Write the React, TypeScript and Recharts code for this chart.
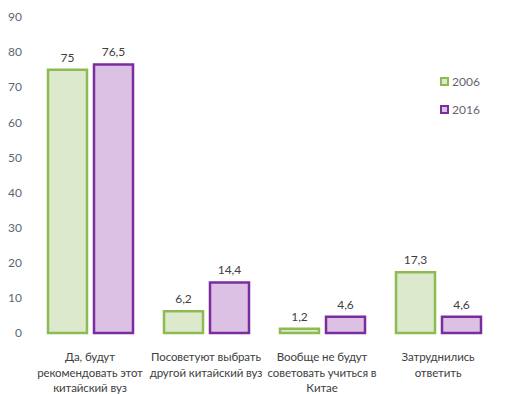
import { BarChart, Bar, XAxis, YAxis, LabelList } from 'recharts'

const categories = [
  'Да, будут\nрекомендовать этот\nкитайский вуз',
  'Посоветуют выбрать\nдругой китайский вуз',
  'Вообще не будут\nсоветовать учиться в\nКитае',
  'Затруднились\nответить',
]
const values2006 = [75, 6.2, 1.2, 17.3]
const values2016 = [76.5, 14.4, 4.6, 4.6]
const yTicks = [0, 10, 20, 30, 40, 50, 60, 70, 80, 90]

const data = categories.map((name, i) => ({
  name,
  y2006: values2006[i],
  y2016: values2016[i],
}))

const FONT = 'Lato, "Open Sans", sans-serif'
const AXIS_COLOR = '#5f6670'
const TEXT_COLOR = '#404040'

const series = [
  { key: 'y2006', label: '2006', fill: '#dde9cd', stroke: '#8dbb52' },
  { key: 'y2016', label: '2016', fill: '#dcc1e4', stroke: '#7b2d9e' },
]

function fmt(v: any) {
  return String(v).replace('.', ',')
}

function CategoryTick(props: any) {
  const { x, y, payload } = props
  const lines = String(payload.value).split('\n')
  return (
    <g transform={`translate(${x},${y})`}>
      {lines.map((line, i) => (
        <text
          key={i}
          x={0}
          y={20 + i * 15.5}
          textAnchor="middle"
          fill={TEXT_COLOR}
          fontSize={11.5}
          letterSpacing={-0.1}
          fontFamily={FONT}
        >
          {line}
        </text>
      ))}
    </g>
  )
}

// legend sits inside the plot, top right, so it is drawn as an overlay
function LegendBox() {
  return (
    <div
      style={{
        position: 'absolute',
        left: 440,
        top: 73,
        fontFamily: FONT,
        fontSize: 12,
        color: AXIS_COLOR,
      }}
    >
      {series.map((s) => (
        <div
          key={s.key}
          style={{ display: 'flex', alignItems: 'center', height: 16, marginBottom: 12 }}
        >
          <span
            style={{
              display: 'inline-block',
              width: 5,
              height: 5,
              background: s.fill,
              border: `2px solid ${s.stroke}`,
              marginRight: 3,
            }}
          />
          <span style={{ fontFamily: FONT }}>{s.label}</span>
        </div>
      ))}
    </div>
  )
}

export default function App() {
  return (
    <div style={{ position: 'absolute', left: 0, top: 0, width: 511, height: 394, background: '#fff' }}>
      <BarChart
        width={511}
        height={394}
        data={data}
        margin={{ top: 17, right: 15, bottom: 5, left: 0 }}
        barGap={7}
        barSize={39}
      >
        <XAxis
          dataKey="name"
          axisLine={false}
          tickLine={false}
          interval={0}
          height={56}
          tick={<CategoryTick />}
        />
        <YAxis
          domain={[0, 90]}
          ticks={yTicks}
          axisLine={false}
          tickLine={false}
          tickSize={0}
          tickMargin={10}
          width={32}
          tick={{ fill: AXIS_COLOR, fontSize: 12, fontFamily: FONT }}
        />
        {series.map((s) => (
          <Bar
            key={s.key}
            dataKey={s.key}
            name={s.label}
            fill={s.fill}
            stroke={s.stroke}
            strokeWidth={2.5}
            isAnimationActive={false}
          >
            <LabelList
              dataKey={s.key}
              position="top"
              offset={8}
              formatter={fmt}
              fill={TEXT_COLOR}
              fontSize={12}
              fontFamily={FONT}
            />
          </Bar>
        ))}
      </BarChart>
      <LegendBox />
    </div>
  )
}
